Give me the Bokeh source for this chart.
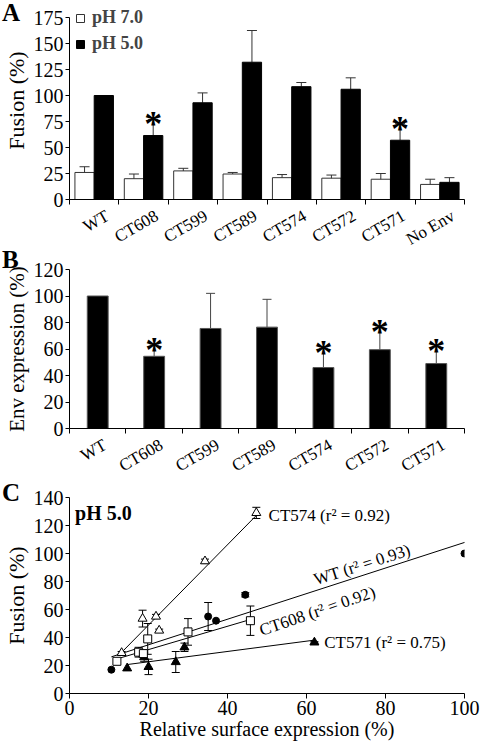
from bokeh.plotting import figure
from bokeh.layouts import column
from bokeh.models import (Range1d, FixedTicker, Whisker, TeeHead, ColumnDataSource,
                          Legend, LegendItem, Label, Div)
from bokeh.core.properties import value
from bokeh.embed import file_html
from bokeh.resources import INLINE

FONT = "Liberation Serif"

# ---------------- Panel A data ----------------
a_groups = ["WT", "CT608", "CT599", "CT589", "CT574", "CT572", "CT571", "No Env"]
a_ph7 = [26, 20, 27.5, 24.5, 21, 20.5, 19.5, 14.5]
a_ph7_err = [5.5, 4.5, 2.5, 1.5, 3, 3, 5.5, 5]
a_ph5 = [100, 61.5, 93, 132, 108.5, 106, 57, 16.5]
a_ph5_err = [0, 15.5, 9.5, 30.5, 4, 11, 16, 4.5]
a_sig = [False, True, False, False, False, False, True, False]
a_yticks = [0, 25, 50, 75, 100, 125, 150, 175]
a_ymax = 175

# ---------------- Panel B data ----------------
b_groups = ["WT", "CT608", "CT599", "CT589", "CT574", "CT572", "CT571"]
b_vals = [100, 54.5, 75.5, 76.5, 46, 59.5, 49]
b_err = [0, 8.5, 26.5, 21, 14.5, 17, 13]
b_sig = [False, True, False, False, True, True, True]
b_yticks = [0, 20, 40, 60, 80, 100, 120]

# ---------------- Panel C data ----------------
wt_x = [10.6, 35.1, 37.1, 44.5, 100]
wt_y = [17, 55, 52, 70.5, 100]
wt_err = [0, 10, 0, 1.5, 0]
ct608_x = [12, 17.5, 18.7, 19.8, 30, 45.8]
ct608_y = [23, 29.5, 28.5, 39, 44, 52]
ct608_err = [0, 3.5, 2.5, 11, 9.5, 10.5]
ct574_x = [13.2, 18.5, 21.9, 22.7, 34.3, 47.3]
ct574_y = [29, 53.5, 55, 45, 94.5, 129]
ct574_err = [1, 6, 1.5, 1, 1.5, 4]
ct571_x = [14.6, 18.9, 20, 26.9, 29.1, 62]
ct571_y = [18, 26, 19, 22.5, 33, 36.5]
ct571_err = [0, 3, 5.5, 7.5, 3, 0.5]

fit_names = ["WT", "CT608", "CT574", "CT571"]
fit_x0 = [10.6, 12, 12.7, 14.7]
fit_x1 = [100.5, 46, 47.8, 62]
fit_slope = [0.914, 0.833, 2.869, 0.368]
fit_icpt = [16.5, 14.7, -8.5, 15.3]

c_labels = ["CT574 (r\u00b2 = 0.92)", "WT (r\u00b2 = 0.93)", "CT608 (r\u00b2 = 0.92)", "CT571 (r\u00b2 = 0.75)"]
c_label_x = [50.4, 62, 48.2, 64.5]
c_label_y = [127.4, 81, 44.8, 36.4]
c_label_angle = [0, 0.31, 0.33, 0]
c_xticks = [0, 20, 40, 60, 80, 100]
c_yticks = [0, 20, 40, 60, 80, 100, 120, 140]

panel_letters = ["A", "B", "C"]

TICK_FS = "20px"
AXLAB_FS = "22px"
CAT_FS = "17px"
CAT_ANGLE = 0.52
W = 480


def style_axes(p):
    for ax in (p.xaxis[0], p.yaxis[0]):
        ax.axis_line_color = "black"
        ax.axis_line_width = 1
        ax.major_tick_line_color = "black"
        ax.minor_tick_line_color = "black"
        ax.major_tick_in = 0
        ax.minor_tick_in = 0
        ax.major_label_text_font = FONT
        ax.major_label_text_font_size = TICK_FS
        ax.major_label_text_color = "black"
        ax.major_label_standoff = 2
        ax.axis_label_text_font = FONT
        ax.axis_label_text_font_size = AXLAB_FS
        ax.axis_label_text_font_style = "normal"
        ax.axis_label_text_color = "black"
        ax.axis_label_standoff = 2
    p.xgrid.visible = False
    p.ygrid.visible = False
    p.outline_line_color = None
    p.background_fill_color = "white"
    p.border_fill_alpha = 0


def cat_axis(p, n, names, shift):
    ticks = [i + 0.5 + shift for i in range(n)]
    p.xaxis.ticker = FixedTicker(ticks=ticks, minor_ticks=list(range(n + 1)))
    p.xaxis.major_label_overrides = {t: g for t, g in zip(ticks, names)}
    p.xaxis.major_tick_out = 0
    p.xaxis.minor_tick_out = 5
    p.xaxis.major_label_orientation = CAT_ANGLE
    p.xaxis.major_label_standoff = 10
    p.xaxis.major_label_text_font_size = CAT_FS


def stars(p, xs, ys):
    p.text(x=xs, y=ys, text=["*"] * len(xs), text_font=value(FONT), text_font_size="36px",
           text_font_style="bold", text_align="center", text_baseline="alphabetic",
           y_offset=5, text_color="black")


# ================= Panel A =================
# frame is extended 16 px above the 175 tick (axis bounds stop at 175) so the legend fits
A_TOP, A_FH, A_BOT = 1, 198, 72
a_ytop = a_ymax * A_FH / (A_FH - 16)
pa = figure(width=W, height=A_TOP + A_FH + A_BOT, output_backend="svg", toolbar_location=None,
            x_range=Range1d(0, len(a_groups)), y_range=Range1d(0, a_ytop),
            min_border_left=68, min_border_right=7, min_border_top=A_TOP, min_border_bottom=A_BOT)
style_axes(pa)
pa.yaxis.axis_label = "Fusion (%)"
pa.yaxis.ticker = FixedTicker(ticks=a_yticks, minor_ticks=[])
pa.yaxis.bounds = (0, a_ymax)
pa.yaxis.major_tick_out = 4
cat_axis(pa, len(a_groups), a_groups, 0.27)

xa = [i + 0.5 for i in range(len(a_groups))]
x7 = [x - 0.195 for x in xa]
x5 = [x + 0.195 for x in xa]
src7 = ColumnDataSource(dict(x=x7, top=a_ph7, up=[v + e for v, e in zip(a_ph7, a_ph7_err)],
                             lo=[v - e for v, e in zip(a_ph7, a_ph7_err)]))
src5 = ColumnDataSource(dict(x=x5, top=a_ph5))
r7 = pa.vbar(x="x", top="top", width=0.39, source=src7, fill_color="white",
             line_color="#333333", line_width=1)
r5 = pa.vbar(x="x", top="top", width=0.39, source=src5, fill_color="black",
             line_color="black", line_width=1)
pa.add_layout(Whisker(source=src7, base="x", upper="up", lower="lo", line_color="#333333",
                      upper_head=TeeHead(size=10, line_color="#333333"),
                      lower_head=TeeHead(size=10, line_color="#333333")))
a5_up = [v + e for v, e in zip(a_ph5, a_ph5_err)]
src5e = ColumnDataSource(dict(x=[x for x, e in zip(x5, a_ph5_err) if e > 0],
                              up=[u for u, e in zip(a5_up, a_ph5_err) if e > 0],
                              lo=[v for v, e in zip(a_ph5, a_ph5_err) if e > 0]))
pa.add_layout(Whisker(source=src5e, base="x", upper="up", lower="lo", line_color="#333333",
                      upper_head=TeeHead(size=10, line_color="#333333"), lower_head=None))
stars(pa, [x for x, s in zip(x5, a_sig) if s], [u for u, s in zip(a5_up, a_sig) if s])

leg = Legend(items=[LegendItem(label="pH 7.0", renderers=[r7]),
                    LegendItem(label="pH 5.0", renderers=[r5])],
             location="top_left", background_fill_alpha=0, border_line_alpha=0,
             padding=0, margin=6, spacing=5, glyph_width=10, glyph_height=10,
             label_text_font=FONT, label_text_font_size="18px", label_text_font_style="bold",
             label_standoff=7, label_height=20)
pa.add_layout(leg)

# ================= Panel B =================
B_TOP, B_FH, B_BOT = 12, 159, 72
pb = figure(width=W, height=B_TOP + B_FH + B_BOT, output_backend="svg", toolbar_location=None,
            x_range=Range1d(0, len(b_groups)), y_range=Range1d(0, 120),
            min_border_left=67, min_border_right=3, min_border_top=B_TOP, min_border_bottom=B_BOT,
            styles={"margin-top": f"{257 - (A_TOP + A_FH + A_BOT)}px"})
style_axes(pb)
pb.yaxis.axis_label = "Env expression (%)"
pb.yaxis.axis_label_text_font_size = "21px"
pb.yaxis.ticker = FixedTicker(ticks=b_yticks, minor_ticks=[])
pb.yaxis.major_tick_out = 4
cat_axis(pb, len(b_groups), b_groups, 0.13)

xb = [i + 0.5 for i in range(len(b_groups))]
srcb = ColumnDataSource(dict(x=xb, top=b_vals))
pb.vbar(x="x", top="top", width=0.37, source=srcb, fill_color="black",
        line_color="#555555", line_width=1)
b_up = [v + e for v, e in zip(b_vals, b_err)]
srcbe = ColumnDataSource(dict(x=[x for x, e in zip(xb, b_err) if e > 0],
                              up=[u for u, e in zip(b_up, b_err) if e > 0],
                              lo=[v for v, e in zip(b_vals, b_err) if e > 0]))
pb.add_layout(Whisker(source=srcbe, base="x", upper="up", lower="lo", line_color="#444444",
                      upper_head=TeeHead(size=9, line_color="#444444"), lower_head=None))
stars(pb, [x for x, s in zip(xb, b_sig) if s], [u for u, s in zip(b_up, b_sig) if s])

# ================= Panel C =================
C_TOP, C_FH, C_BOT = 11, 196, 53
b_end = 257 + B_TOP + B_FH + B_BOT
pc = figure(width=W, height=C_TOP + C_FH + C_BOT, output_backend="svg", toolbar_location=None,
            x_range=Range1d(0, 100), y_range=Range1d(0, 140),
            min_border_left=68, min_border_right=16, min_border_top=C_TOP, min_border_bottom=C_BOT,
            styles={"margin-top": f"{486 - b_end}px"})
style_axes(pc)
pc.yaxis.axis_label = "Fusion (%)"
pc.xaxis.axis_label = "Relative surface expression (%)"
pc.xaxis.axis_label_text_font_size = "20px"
pc.xaxis.axis_label_standoff = 0
pc.yaxis.ticker = FixedTicker(ticks=c_yticks, minor_ticks=[])
pc.xaxis.ticker = FixedTicker(ticks=c_xticks, minor_ticks=[])
pc.yaxis.major_tick_out = 4
pc.xaxis.major_tick_out = 5

pc.segment(x0=fit_x0, x1=fit_x1,
           y0=[a + b * x for a, b, x in zip(fit_icpt, fit_slope, fit_x0)],
           y1=[a + b * x for a, b, x in zip(fit_icpt, fit_slope, fit_x1)],
           line_color="black", line_width=1)


def series(xs, ys, errs, marker, size, fill):
    src = ColumnDataSource(dict(x=[x for x, e in zip(xs, errs) if e > 0],
                                up=[y + e for y, e in zip(ys, errs) if e > 0],
                                lo=[y - e for y, e in zip(ys, errs) if e > 0]))
    pc.add_layout(Whisker(source=src, base="x", upper="up", lower="lo", line_color="black",
                          upper_head=TeeHead(size=8, line_color="black"),
                          lower_head=TeeHead(size=8, line_color="black")))
    pc.scatter(x=xs, y=ys, marker=marker, size=size, fill_color=fill,
               line_color="black", line_width=1)


series(ct571_x, ct571_y, ct571_err, "triangle", 9, "black")
series(ct608_x, ct608_y, ct608_err, "square", 8, "white")
series(ct574_x, ct574_y, ct574_err, "triangle", 9, "white")
series(wt_x, wt_y, wt_err, "circle", 7, "black")

for t, x, y, ang in zip(c_labels, c_label_x, c_label_y, c_label_angle):
    pc.add_layout(Label(x=x, y=y, text=t, angle=ang, text_font=FONT, text_font_size="17px",
                        text_color="black",
                        text_baseline="middle" if ang == 0 else "alphabetic",
                        text_align="left"))
pc.add_layout(Label(x=1.4, y=128.6, text="pH 5.0", text_font=FONT, text_font_size="20px",
                    text_font_style="bold", text_baseline="middle", text_align="left",
                    text_color="black"))

# panel letters (absolutely positioned, outside the plot frames)
letter_tops = [0, 247, 480]
divs = []
for txt, top in zip(panel_letters, letter_tops):
    divs.append(Div(text=txt, width=20, height=26,
                    styles={"position": "absolute", "left": "2px", "top": f"{top}px",
                            "font-family": FONT, "font-weight": "bold", "font-size": "25px",
                            "line-height": "1", "color": "black", "margin": "0",
                            "padding": "0", "z-index": "10"}))

layout = column(pa, pb, pc, *divs, spacing=0)
open("out.html", "w").write(file_html(layout, INLINE))
